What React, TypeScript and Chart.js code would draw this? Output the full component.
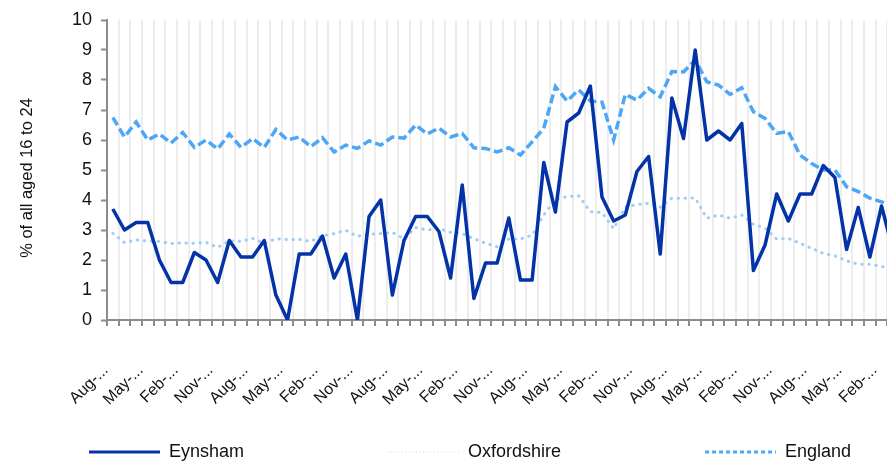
import React, { useEffect, useRef } from "react";
import { Chart, registerables } from "chart.js";

Chart.register(...registerables);

// Quarterly categories (labels are truncated on the axis as in the original)
const quarterLabels: string[] = [
  "Aug-99", "Nov-99", "Feb-00", "May-00", "Aug-00", "Nov-00", "Feb-01", "May-01",
  "Aug-01", "Nov-01", "Feb-02", "May-02", "Aug-02", "Nov-02", "Feb-03", "May-03",
  "Aug-03", "Nov-03", "Feb-04", "May-04", "Aug-04", "Nov-04", "Feb-05", "May-05",
  "Aug-05", "Nov-05", "Feb-06", "May-06", "Aug-06", "Nov-06", "Feb-07", "May-07",
  "Aug-07", "Nov-07", "Feb-08", "May-08", "Aug-08", "Nov-08", "Feb-09", "May-09",
  "Aug-09", "Nov-09", "Feb-10", "May-10", "Aug-10", "Nov-10", "Feb-11", "May-11",
  "Aug-11", "Nov-11", "Feb-12", "May-12", "Aug-12", "Nov-12", "Feb-13", "May-13",
  "Aug-13", "Nov-13", "Feb-14", "May-14", "Aug-14", "Nov-14", "Feb-15", "May-15",
  "Aug-15", "Nov-15", "Feb-16", "May-16",
];

const eynsham: number[] = [
  3.7, 3.0, 3.25, 3.25, 2.0, 1.25, 1.25, 2.25, 2.0, 1.25,
  2.65, 2.1, 2.1, 2.65, 0.83, 0, 2.2, 2.2, 2.8, 1.4,
  2.2, 0, 3.45, 4.0, 0.83, 2.65, 3.45, 3.45, 2.95, 1.4,
  4.5, 0.72, 1.9, 1.9, 3.4, 1.33, 1.33, 5.25, 3.6, 6.6,
  6.9, 7.8, 4.1, 3.3, 3.5, 4.95, 5.45, 2.2, 7.4, 6.05,
  9.0, 6.0, 6.3, 6.0, 6.55, 1.65, 2.5, 4.2, 3.3, 4.2,
  4.2, 5.15, 4.75, 2.35, 3.75, 2.1, 3.8, 2.3,
];

const oxfordshire: number[] = [
  2.89, 2.58, 2.67, 2.63, 2.62, 2.55, 2.57, 2.56, 2.59, 2.42,
  2.64, 2.62, 2.72, 2.56, 2.71, 2.68, 2.69, 2.62, 2.81, 2.88,
  2.99, 2.79, 2.86, 2.88, 2.92, 2.71, 3.08, 3.0, 3.05, 2.92,
  2.88, 2.71, 2.56, 2.44, 2.7, 2.7, 2.83, 3.5, 4.03, 4.11,
  4.14, 3.61, 3.58, 3.04, 3.77, 3.85, 3.89, 3.76, 4.06, 4.06,
  4.07, 3.39, 3.5, 3.39, 3.5, 3.19, 3.06, 2.7, 2.72, 2.56,
  2.39, 2.22, 2.14, 1.97, 1.86, 1.86, 1.78, 1.72,
];

const england: number[] = [
  6.75, 6.1, 6.6, 6.0, 6.2, 5.9, 6.25, 5.75, 6.0, 5.7,
  6.2, 5.75, 6.05, 5.75, 6.35, 6.0, 6.1, 5.78, 6.08, 5.6,
  5.83, 5.72, 5.97, 5.83, 6.1, 6.06, 6.5, 6.2, 6.4, 6.1,
  6.22, 5.74, 5.72, 5.6, 5.74, 5.5, 5.94, 6.39, 7.78, 7.3,
  7.67, 7.3, 7.26, 6.0, 7.52, 7.33, 7.72, 7.44, 8.28, 8.27,
  8.67, 7.94, 7.83, 7.52, 7.74, 6.94, 6.72, 6.22, 6.28, 5.5,
  5.22, 5.0, 5.0, 4.44, 4.28, 4.06, 3.94, 3.8,
];

const seriesNames: string[] = ["Eynsham", "Oxfordshire", "England"];
const yTitle = "% of all aged 16 to 24";

const FONT = "'Liberation Sans', Arial, sans-serif";
const C_EYN = "#0433a8";
const C_OXF = "#a0cdf8";
const C_ENG = "#4da6f6";
const AXIS = "#8c8c8c";
const TEXT = "#111";

const legendStyles = [
  { color: C_EYN, width: 3, dash: [] as number[], cap: "butt" as CanvasLineCap },
  { color: "#d2e7fb", width: 1.5, dash: [1, 2.5], cap: "butt" as CanvasLineCap },
  { color: C_ENG, width: 3, dash: [4, 3], cap: "butt" as CanvasLineCap },
];

const decorPlugin = {
  id: "decor",
  afterDraw(chart: any) {
    const ctx: CanvasRenderingContext2D = chart.ctx;
    // y-axis title
    ctx.save();
    ctx.font = `16.5px ${FONT}`;
    ctx.fillStyle = TEXT;
    ctx.textAlign = "center";
    ctx.textBaseline = "middle";
    ctx.translate(27, 178);
    ctx.rotate(-Math.PI / 2);
    ctx.fillText(yTitle, 0, 0);
    ctx.restore();

    // legend
    ctx.save();
    ctx.font = `18px ${FONT}`;
    ctx.textBaseline = "middle";
    ctx.textAlign = "left";
    const y = 452;
    let x = 89;
    const sample = 71;
    const gap = 144;
    chart.data.datasets.forEach((ds: any, i: number) => {
      const st = legendStyles[i];
      ctx.beginPath();
      ctx.setLineDash(st.dash);
      ctx.lineWidth = st.width;
      ctx.lineCap = st.cap;
      ctx.strokeStyle = st.color;
      ctx.moveTo(x, y);
      ctx.lineTo(x + sample, y);
      ctx.stroke();
      ctx.setLineDash([]);
      const tx = x + sample + 9;
      ctx.fillStyle = TEXT;
      ctx.fillText(ds.label, tx, y);
      x = tx + ctx.measureText(ds.label).width + gap;
    });
    ctx.restore();
  },
};

export default function App() {
  const ref = useRef<HTMLCanvasElement | null>(null);

  useEffect(() => {
    if (!ref.current) return;
    const chart = new Chart(ref.current, {
      type: "line",
      data: {
        labels: quarterLabels,
        datasets: [
          {
            label: seriesNames[0],
            data: eynsham,
            borderColor: C_EYN,
            backgroundColor: C_EYN,
            borderWidth: 3.5,
            pointRadius: 0,
            tension: 0,
            borderJoinStyle: "round",
          },
          {
            label: seriesNames[1],
            data: oxfordshire,
            borderColor: C_OXF,
            backgroundColor: C_OXF,
            borderWidth: 3,
            borderDash: [0.5, 6.5],
            borderCapStyle: "round",
            pointRadius: 0,
            tension: 0,
          },
          {
            label: seriesNames[2],
            data: england,
            borderColor: C_ENG,
            backgroundColor: C_ENG,
            borderWidth: 3.5,
            borderDash: [9, 4],
            borderCapStyle: "butt",
            pointRadius: 0,
            tension: 0,
          },
        ],
      },
      options: {
        responsive: false,
        animation: false,
        devicePixelRatio: 1,
        layout: { padding: { top: 20, right: 0, bottom: 0, left: 0 } },
        plugins: {
          legend: { display: false },
          tooltip: { enabled: false },
        },
        scales: {
          x: {
            type: "category",
            offset: true,
            grid: {
              offset: true,
              color: "#ededed",
              lineWidth: 2,
              drawTicks: true,
              tickLength: 6,
              tickColor: AXIS,
              tickWidth: 2,
            },
            border: { color: AXIS, width: 2 },
            ticks: {
              autoSkip: false,
              minRotation: 45,
              maxRotation: 45,
              padding: 35,
              labelOffset: -7,
              color: TEXT,
              font: { size: 16, family: FONT },
              callback: (_v: any, i: number) =>
                i % 3 === 0 ? quarterLabels[i].slice(0, 4) + "..." : "",
            },
            afterFit: (s: any) => {
              s.height = 143;
              s.paddingLeft = 0;
              s.paddingRight = 0;
            },
          },
          y: {
            min: 0,
            max: 10,
            ticks: {
              stepSize: 1,
              padding: 9,
              color: TEXT,
              font: { size: 18, family: FONT },
            },
            grid: {
              drawOnChartArea: false,
              drawTicks: true,
              tickLength: 6,
              tickColor: AXIS,
              tickWidth: 2,
            },
            border: { color: AXIS, width: 2 },
            afterFit: (s: any) => {
              s.width = 107;
              s.paddingTop = 0;
              s.paddingBottom = 0;
            },
          },
        },
      },
      plugins: [decorPlugin],
    });
    return () => chart.destroy();
  }, []);

  return (
    <div
      style={{
        position: "fixed",
        left: 0,
        top: 0,
        width: 887,
        height: 463,
        overflow: "hidden",
        background: "#fff",
      }}
    >
      <canvas ref={ref} width={899} height={463} style={{ display: "block" }} />
    </div>
  );
}
